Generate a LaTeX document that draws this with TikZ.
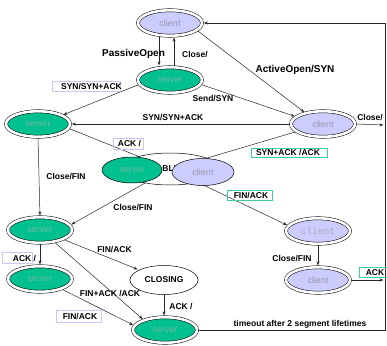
\documentclass[tikz,border=0pt]{standalone}
\usepackage{fontspec}
\setmainfont{Liberation Sans}
\newfontfamily\monofont{Liberation Mono}
\usetikzlibrary{shapes.geometric,arrows.meta}
\pgfdeclarelayer{background}
\pgfsetlayers{background,main}
\definecolor{sgreen}{RGB}{0,192,144}
\definecolor{slav}{RGB}{204,204,255}
\definecolor{stxt}{RGB}{115,185,160}
\definecolor{ctxt}{RGB}{150,150,170}
\definecolor{boxlav}{RGB}{200,200,245}
\definecolor{boxteal}{RGB}{60,205,170}
\begin{document}
\begin{tikzpicture}[x=1pt,y=-1pt,
  dst/.style={ellipse, draw=black, double=white, double distance=2.6pt, line width=0.5pt,
    minimum width=64pt, minimum height=25.5pt, inner sep=0pt, font=\fontsize{9}{10}\selectfont},
  srv/.style={dst, fill=sgreen, text=stxt},
  cli/.style={dst, fill=slav, text=ctxt},
  sst/.style={ellipse, draw=black, line width=0.5pt, inner sep=0pt, font=\fontsize{9}{10}\selectfont},
  lbl/.style={font=\fontsize{8.5}{9}\selectfont\bfseries, inner sep=0pt},
  big/.style={font=\fontsize{10}{11}\selectfont\bfseries, inner sep=0pt},
  lbox/.style={draw=#1, line width=0.7pt, inner sep=0pt},
  edge/.style={draw=black!85, line width=0.5pt},
  arr/.style={edge, -{Stealth[length=4pt,width=3pt]}, shorten >=1.6pt},
]
\useasboundingbox (0,0) rectangle (387,345);

% states
\node[cli] (closed) at (170,23) {client};
\node[srv] (listen) at (170,80) {server};
\node[srv] (synrcvd) at (38,124) {server};
\node[cli] (synsent) at (323,124) {client};
\node[sst, fill=white, minimum width=100pt, minimum height=32pt,
      font=\fontsize{8.5}{9}\selectfont\bfseries] (estab) at (170,169) {ESTABLISHED};
\node[sst, fill=sgreen, text=stxt, minimum width=60pt, minimum height=26pt] (estS) at (132,170) {server};
\node[sst, fill=slav, text=ctxt, minimum width=62pt, minimum height=27pt] (estC) at (203,172) {client};
\node[srv] (finw1) at (40,230) {server};
\node[srv] (finw2) at (40,279) {server};
\node[sst, fill=white, minimum width=68pt, minimum height=29pt,
      font=\fontsize{8.5}{9}\selectfont\bfseries] (closing) at (164,280) {CLOSING};
\node[srv] (timew) at (165,330) {server};
\node[cli, text=ctxt!80, font=\monofont\fontsize{9.5}{10}\selectfont] (closew) at (318,231) {client};
\node[cli] (lastack) at (318,280) {client};

% corner points of the right-hand return line
\coordinate (rtop) at (385,23);
\coordinate (rbot) at (385,330);
\coordinate (rs) at (385,125);
\coordinate (rl) at (385,280);

% label boxes
\node[lbox=boxlav, minimum width=68pt, minimum height=10pt] (b1) at (86,86) {};
\node[lbox=boxlav, minimum width=30pt, minimum height=11pt] (b2) at (128,143.5) {};
\node[lbox=boxteal, minimum width=76pt, minimum height=9pt] (b3) at (289,152.5) {};
\node[lbox=boxteal, minimum width=45pt, minimum height=10pt] (b4) at (249.5,195) {};
\node[lbox=boxlav, minimum width=30pt, minimum height=11pt] (b5) at (17,257.5) {};
\node[lbox=boxlav, minimum width=45pt, minimum height=12pt] (b6) at (78.5,316) {};
\node[lbox=boxteal, minimum width=30pt, minimum height=10pt] (b7) at (374,272) {};

% labels
\node[big] (tPO) at (133.5,54) {PassiveOpen};
\node[lbl, anchor=west] (tC1) at (182,55) {Close/};
\node[big] (tAO) at (295,70) {ActiveOpen/SYN};
\node[lbl] (tSS) at (213,99) {Send/SYN};
\node[lbl] (t1) at (91.5,87) {SYN/SYN+ACK};
\node[lbl] (t2) at (173,118) {SYN/SYN+ACK};
\node[lbl] (tC2) at (370,118) {Close/};
\node[lbl] (t3) at (129.5,144) {ACK /};
\node[lbl] (t4) at (288,153) {SYN+ACK /ACK};
\node[lbl] (t5) at (66,177) {Close/FIN};
\node[lbl] (t6) at (251,196) {FIN/ACK};
\node[lbl] (t7) at (133,208) {Close/FIN};
\node[lbl] (t8) at (114.5,250) {FIN/ACK};
\node[lbl] (t9) at (24.5,259) {ACK /};
\node[lbl] (t10) at (292,259) {Close/FIN};
\node[lbl] (t11) at (375,273) {ACK};
\node[lbl] (t12) at (110,293) {FIN+ACK /ACK};
\node[lbl] (t13) at (181,306) {ACK /};
\node[lbl] (t14) at (80,316) {FIN/ACK};
\node[lbl] (t15) at (300,324) {timeout after 2 segment lifetimes};

% transitions
\begin{pgfonlayer}{background}
\fill[white] (0,0) rectangle (387,345);
\draw[arr] ([xshift=-11pt]closed.south) -- ([xshift=-11pt]listen.north);
\draw[arr] ([xshift=4pt]listen.north) -- ([xshift=4pt]closed.south);
\draw[arr] (closed.345) -- (synsent.148);
\draw[arr] (listen.352) -- (synsent.165);
\draw[arr] (listen.188) -- (synrcvd.20);
\draw[arr] (synsent.west) -- (synrcvd.east);
\draw[arr] (synsent.east) -- (rs);
\draw[edge] (synrcvd.352) -- (estab.center);
\draw[edge] (synsent.196) -- (estab.center);
\draw[arr] (synrcvd.south) -- (finw1.north);
\draw[arr] (estab.center) -- (finw1.9);
\draw[arr] (estab.center) -- (closew.170);
\draw[arr] (closew.south) -- (lastack.north);
\draw[arr] (lastack.east) -- (rl);
\draw[arr] (finw1.south) -- (finw2.north);
\draw[arr] (finw1) -- (closing);
\draw[arr] (finw1.320) -- (timew.155);
\draw[arr] (finw2.335) -- (timew.172);
\draw[arr] (closing.south) -- (closing.south |- timew.north);
\draw[arr] (timew.east) -- (rbot) -- (rtop) -- (closed.east);
\end{pgfonlayer}
\end{tikzpicture}
\end{document}
